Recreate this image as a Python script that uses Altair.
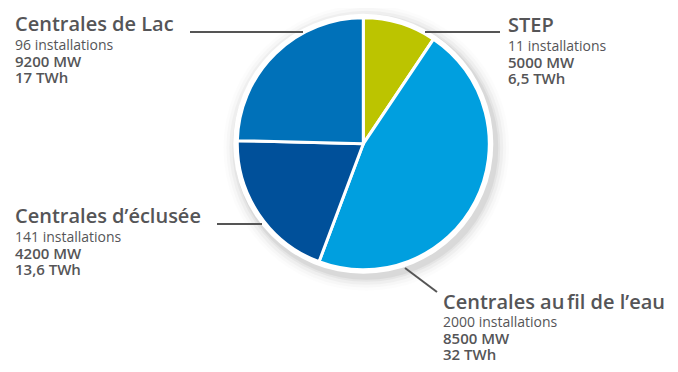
import altair as alt
import pandas as pd

# ---- data ----
categories = ["STEP", "Centrales au fil de l'eau", "Centrales d\u2019\u00e9clus\u00e9e", "Centrales de Lac"]
titles = ["STEP", "Centrales au\u202ffil de l\u2019eau", "Centrales d\u2019\u00e9clus\u00e9e", "Centrales de Lac"]
installations = ["11 installations", "2000 installations", "141 installations", "96 installations"]
power_mw = ["5000 MW", "8500 MW", "4200 MW", "9200 MW"]
energy_label = ["6,5 TWh", "32 TWh", "13,6 TWh", "17 TWh"]
energy_twh = [6.5, 32, 13.6, 17]
colors = ["#bcc400", "#009fdf", "#00509a", "#0071b9"]

# ---- layout (image pixel coords; shifted by page margin) ----
OFF = 8
cx, cy = 363.3 - OFF, 143.8 - OFF
R = 126
label_x = [508, 443, 15, 15]
title_y = [32, 309, 223, 31]
gaps = [(18.5, 35.5), (17.5, 34.5), (18.5, 35.5), (19, 36)]
LINE_H = 16.3
leader = [  # x, y, x2, y2
    (425, 32, 500, 32),
    (405, 268, 437, 292),
    (217, 224, 262, 224),
    (190, 32, 303, 32),
]

pie_df = pd.DataFrame({"cat": categories, "val": energy_twh, "order": range(4)})
lab_df = pd.DataFrame({
    "title": titles,
    "inst": installations,
    "x": [v - OFF for v in label_x],
    "ty": [v - OFF for v in title_y],
})
lab_df["vals"] = [[m, t] for m, t in zip(power_mw, energy_label)]
lab_df["y1"] = [t + g[0] for t, g in zip(lab_df["ty"], gaps)]
lab_df["y2"] = [t + g[1] for t, g in zip(lab_df["ty"], gaps)]
lead_df = pd.DataFrame({
    "x": [a[0] - OFF for a in leader], "y": [a[1] - OFF for a in leader],
    "x2": [a[2] - OFF for a in leader], "y2": [a[3] - OFF for a in leader],
})
one = pd.DataFrame({"k": [0]})

FONT = "Open Sans"
TXT = "#555557"

shadow_layers = []
for r, op in [(143, 0.012), (140, 0.02), (137, 0.03), (134, 0.04), (132, 0.05)]:
    shadow_layers.append(
        alt.Chart(one).mark_arc(theta=0, theta2=6.2832, radius=r, color="#000000", opacity=op)
        .encode(x=alt.value(cx + 3), y=alt.value(cy + 4))
    )
ring = alt.Chart(one).mark_arc(theta=0, theta2=6.2832, radius=R + 4, color="white").encode(
    x=alt.value(cx), y=alt.value(cy))

pie = alt.Chart(pie_df).mark_arc(radius=R, stroke="white", strokeWidth=3).encode(
    theta=alt.Theta("val:Q", stack=True),
    order=alt.Order("order:Q"),
    color=alt.Color("cat:N", scale=alt.Scale(domain=categories, range=colors), legend=None),
    x=alt.value(cx), y=alt.value(cy),
)

leads = alt.Chart(lead_df).mark_rule(color="#555555", strokeWidth=2).encode(
    x=alt.X("x:Q", scale=None), y=alt.Y("y:Q", scale=None),
    x2="x2:Q", y2="y2:Q")

base = alt.Chart(lab_df)
t_title = base.mark_text(align="left", baseline="alphabetic", font=FONT, fontSize=20,
                         fontWeight=600, color=TXT).encode(
    x=alt.X("x:Q", scale=None), y=alt.Y("ty:Q", scale=None), text="title:N")
t_inst = base.mark_text(align="left", baseline="alphabetic", font=FONT, fontSize=14,
                        fontWeight=400, color=TXT).encode(
    x=alt.X("x:Q", scale=None), y=alt.Y("y1:Q", scale=None), text="inst:N")
t_vals = base.mark_text(align="left", baseline="alphabetic", font=FONT, fontSize=15,
                        fontWeight=600, color=TXT, lineHeight=LINE_H).encode(
    x=alt.X("x:Q", scale=None), y=alt.Y("y2:Q", scale=None), text="vals")

chart = alt.layer(
    *shadow_layers, ring, pie, leads, t_title, t_inst, t_vals
).properties(
    width=662, height=356, padding=0, autosize=alt.AutoSizeParams(type="none")
).configure_view(stroke=None)

chart.save("out.html", embed_options={"renderer": "svg", "actions": False})
